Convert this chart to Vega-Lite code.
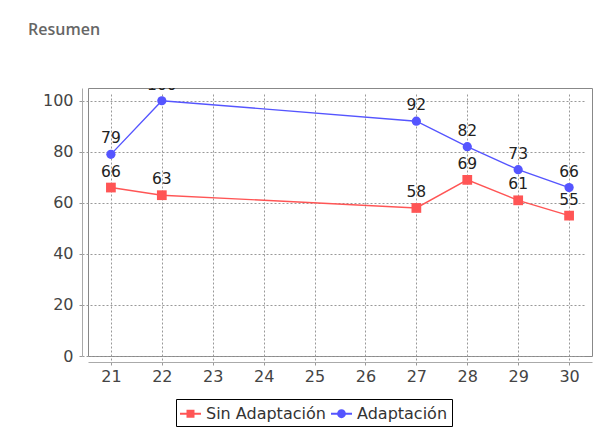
{
  "$schema": "https://vega.github.io/schema/vega-lite/v6.json",
  "width": 504,
  "height": 268,
  "autosize": {"type": "none"},
  "padding": {"left": 88, "top": 88, "right": 22, "bottom": 86},
  "background": "white",
  "title": {
    "text": "Resumen",
    "anchor": "start",
    "frame": "group",
    "dx": -60,
    "offset": 37,
    "baseline": "alphabetic",
    "fontSize": 16,
    "font": "Open Sans",
    "fontWeight": 600,
    "color": "#666666"
  },
  "config": {
    "view": {"stroke": "#888888", "strokeWidth": 1},
    "axis": {
      "labelFont": "DejaVu Sans",
      "labelFontSize": 16,
      "labelColor": "#444444",
      "domainColor": "#aaaaaa",
      "tickColor": "#999999",
      "tickSize": 3,
      "gridColor": "#999999",
      "gridDash": [2, 2],
      "gridWidth": 1,
      "offset": 6,
      "title": null
    }
  },
  "data": {
    "values": [
      {"day": 21, "value": 66, "series": "Sin Adaptación"},
      {"day": 22, "value": 63, "series": "Sin Adaptación"},
      {"day": 27, "value": 58, "series": "Sin Adaptación"},
      {"day": 28, "value": 69, "series": "Sin Adaptación"},
      {"day": 29, "value": 61, "series": "Sin Adaptación"},
      {"day": 30, "value": 55, "series": "Sin Adaptación"},
      {"day": 21, "value": 79, "series": "Adaptación"},
      {"day": 22, "value": 100, "series": "Adaptación"},
      {"day": 27, "value": 92, "series": "Adaptación"},
      {"day": 28, "value": 82, "series": "Adaptación"},
      {"day": 29, "value": 73, "series": "Adaptación"},
      {"day": 30, "value": 66, "series": "Adaptación"}
    ]
  },
  "encoding": {
    "x": {
      "field": "day",
      "type": "quantitative",
      "scale": {"domain": [20.55, 30.45], "nice": false, "zero": false},
      "axis": {"values": [21, 22, 23, 24, 25, 26, 27, 28, 29, 30], "labelPadding": 3, "format": "d"}
    },
    "y": {
      "field": "value",
      "type": "quantitative",
      "scale": {"domain": [0, 105], "nice": false},
      "axis": {"values": [0, 20, 40, 60, 80, 100], "labelPadding": 6}
    }
  },
  "layer": [
    {
      "transform": [{"filter": "datum.series === 'Sin Adaptación'"}],
      "mark": {"type": "line", "strokeWidth": 1.4, "color": "#FF5555"},
      "encoding": {}
    },
    {
      "transform": [{"filter": "datum.series === 'Adaptación'"}],
      "mark": {"type": "line", "strokeWidth": 1.4, "color": "#5555FF"},
      "encoding": {}
    },
    {
      "transform": [{"filter": "datum.series === 'Sin Adaptación'"}],
      "mark": {"type": "point", "shape": "square", "filled": true, "opacity": 1, "size": 95, "color": "#FF5555"},
      "encoding": {}
    },
    {
      "transform": [{"filter": "datum.series === 'Adaptación'"}],
      "mark": {"type": "point", "shape": "circle", "filled": true, "opacity": 1, "size": 85, "color": "#5555FF"},
      "encoding": {}
    },
    {
      "mark": {"type": "point", "filled": true, "size": 0},
      "encoding": {
        "color": {
          "field": "series",
          "type": "nominal",
          "scale": {"domain": ["Sin Adaptación", "Adaptación"], "range": ["#FF5555", "#5555FF"]},
          "legend": {
            "title": null,
            "orient": "none",
            "legendX": 88,
            "legendY": 311,
            "direction": "horizontal",
            "strokeColor": "black",
            "padding": 4,
            "symbolSize": 441,
            "symbolStrokeWidth": 0,
            "symbolOpacity": 1,
            "labelOffset": 5,
            "columnPadding": 5,
            "labelFont": "DejaVu Sans",
            "labelFontSize": 16,
            "labelColor": "#333333"
          }
        },
        "shape": {
          "field": "series",
          "type": "nominal",
          "scale": {
            "domain": ["Sin Adaptación", "Adaptación"],
            "range": [
              "M-1,-0.09H1V0.09H-1Z M-0.38,-0.38H0.38V0.38H-0.38Z",
              "M-1,-0.09H1V0.09H-1Z M-0.42,0A0.42,0.42 0 1,1 0.42,0A0.42,0.42 0 1,1 -0.42,0Z"
            ]
          },
          "legend": {
            "title": null,
            "orient": "none",
            "legendX": 88,
            "legendY": 311,
            "direction": "horizontal",
            "strokeColor": "black",
            "padding": 4,
            "symbolSize": 441,
            "symbolStrokeWidth": 0,
            "symbolOpacity": 1,
            "labelOffset": 5,
            "columnPadding": 5,
            "labelFont": "DejaVu Sans",
            "labelFontSize": 16,
            "labelColor": "#333333"
          }
        }
      }
    },
    {
      "mark": {"type": "text", "dy": -11, "baseline": "alphabetic", "fontSize": 15.5, "font": "DejaVu Sans", "color": "#222222", "clip": true},
      "encoding": {"text": {"field": "value", "type": "quantitative"}}
    }
  ]
}
